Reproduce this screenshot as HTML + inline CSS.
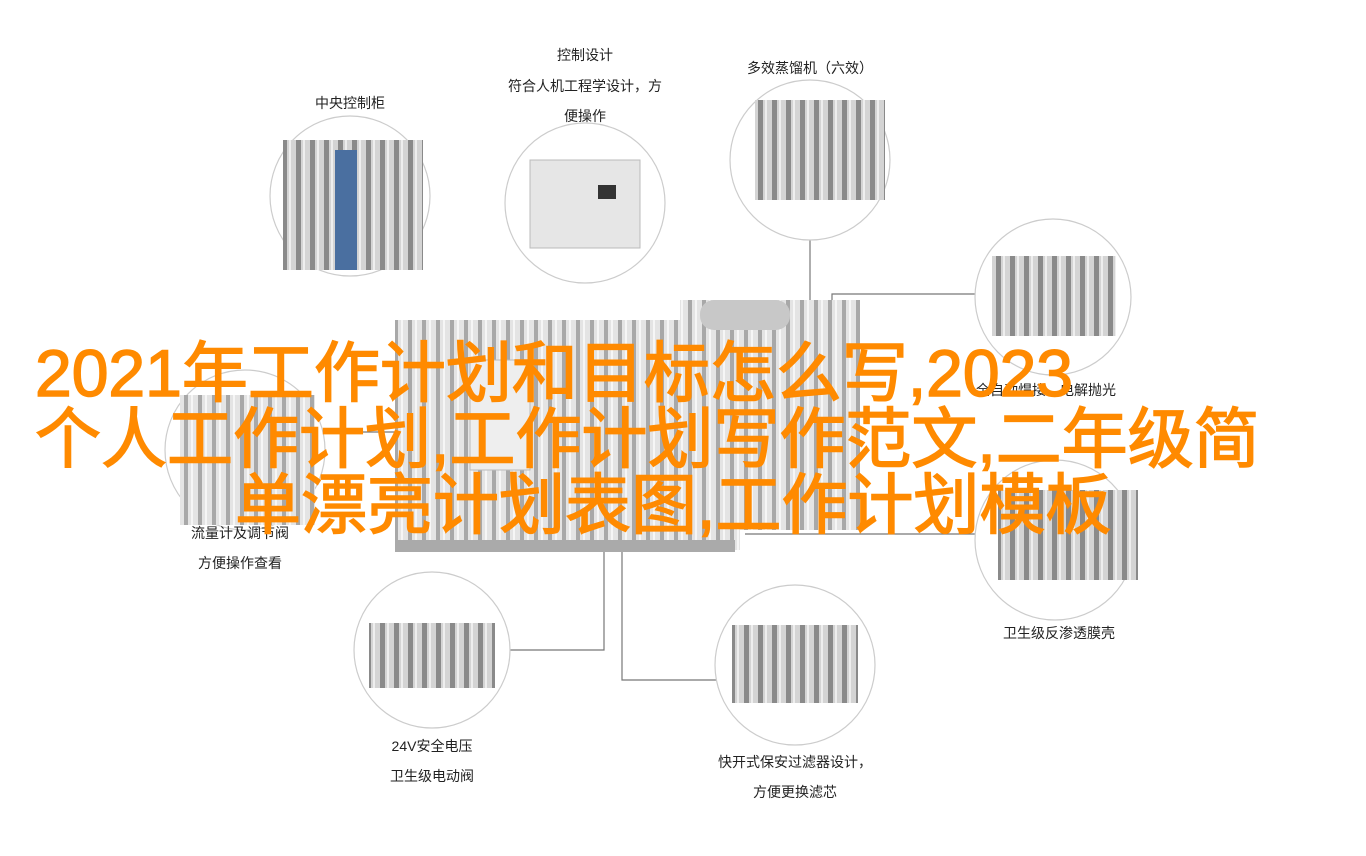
<!DOCTYPE html>
<html><head><meta charset="utf-8"><style>
body{margin:0;background:#fff;width:1366px;height:856px;overflow:hidden;position:relative;font-family:"Liberation Sans","Noto Sans CJK SC",sans-serif}
svg{position:absolute;left:0;top:0}
.lbl{position:absolute;font-size:14px;color:#222;text-align:center;width:240px;line-height:30px}
.title{position:absolute;left:0;top:0;font-size:66px;color:#ff8a00;line-height:66px;font-family:"Liberation Sans","Noto Sans CJK SC",sans-serif;white-space:nowrap;-webkit-text-stroke:1.5px #ff8a00}
</style></head><body>
<svg width="1366" height="856" viewBox="0 0 1366 856">
<defs>
<pattern id="pp" width="14" height="10" patternUnits="userSpaceOnUse"><rect width="14" height="10" fill="#d4d4d4"/><rect x="2" width="5" height="10" fill="#8a8a8a"/><rect x="9" width="2" height="10" fill="#eee"/></pattern>
<pattern id="pl" width="14" height="10" patternUnits="userSpaceOnUse"><rect width="14" height="10" fill="#e4e4e4"/><rect x="2" width="4" height="10" fill="#a8a8a8"/><rect x="9" width="2" height="10" fill="#f6f6f6"/></pattern>
</defs>
<g stroke="#777" stroke-width="1.2" fill="none">
<path d="M604 530V650H510"/>
<path d="M622 540V680H716"/>
<path d="M832 320V294H975"/>
<path d="M810 240V320"/>
<path d="M745 534H978"/>
<path d="M310 432H395"/>
</g>
<g fill="#fff" stroke="#ccc" stroke-width="1.2">
<circle cx="350" cy="196" r="80"/>
<circle cx="585" cy="203" r="80"/>
<circle cx="810" cy="160" r="80"/>
<circle cx="1053" cy="297" r="78"/>
<circle cx="245" cy="450" r="80"/>
<circle cx="1055" cy="540" r="80"/>
<circle cx="432" cy="650" r="78"/>
<circle cx="795" cy="665" r="80"/>
</g>
<rect x="283" y="140" width="140" height="130" fill="url(#pp)"/>
<rect x="335" y="150" width="22" height="120" fill="#4a6fa0"/>
<rect x="530" y="160" width="110" height="88" fill="#e6e6e6" stroke="#bbb"/>
<rect x="598" y="185" width="18" height="14" fill="#333"/>
<rect x="755" y="100" width="130" height="100" fill="url(#pp)"/>
<rect x="992" y="256" width="124" height="80" fill="url(#pp)"/>
<rect x="180" y="395" width="135" height="130" fill="url(#pl)"/>
<rect x="998" y="490" width="140" height="90" fill="url(#pp)"/>
<rect x="369" y="623" width="126" height="65" fill="url(#pp)"/>
<rect x="732" y="625" width="126" height="78" fill="url(#pp)"/>
<g>
<rect x="395" y="320" width="345" height="230" fill="url(#pl)"/>
<rect x="680" y="300" width="180" height="230" fill="url(#pl)"/>
<rect x="700" y="300" width="90" height="30" rx="14" fill="#c8c8c8"/>
<rect x="470" y="360" width="60" height="110" fill="#eee" stroke="#bbb"/>
<rect x="395" y="540" width="340" height="12" fill="#aaa"/>
</g>
</svg>
<div class="lbl" style="left:230px;top:88px">中央控制柜</div>
<div class="lbl" style="left:465px;top:40px">控制设计</div>
<div class="lbl" style="left:465px;top:71px">符合人机工程学设计，方</div>
<div class="lbl" style="left:465px;top:101px">便操作</div>
<div class="lbl" style="left:690px;top:53px">多效蒸馏机（六效）</div>
<div class="lbl" style="left:926px;top:375px">全自动焊接、电解抛光</div>
<div class="lbl" style="left:120px;top:518px">流量计及调节阀</div>
<div class="lbl" style="left:120px;top:548px">方便操作查看</div>
<div class="lbl" style="left:939px;top:618px">卫生级反渗透膜壳</div>
<div class="lbl" style="left:312px;top:731px">24V安全电压</div>
<div class="lbl" style="left:312px;top:761px">卫生级电动阀</div>
<div class="lbl" style="left:675px;top:747px">快开式保安过滤器设计，</div>
<div class="lbl" style="left:675px;top:777px">方便更换滤芯</div>
<div class="title" style="left:35px;top:340px">2021年工作计划和目标怎么写,2023</div>
<div class="title" style="left:35px;top:406px">个人工作计划,工作计划写作范文,二年级简</div>
<div class="title" style="left:235px;top:472px">单漂亮计划表图,工作计划模板</div>
</body></html>
